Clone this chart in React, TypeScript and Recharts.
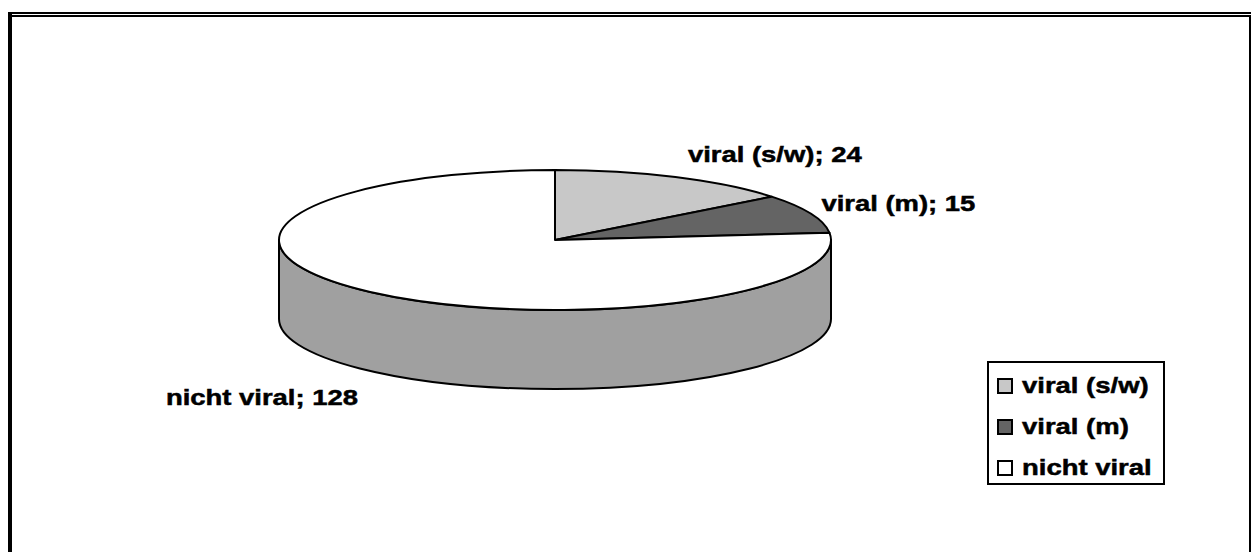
import { PieChart, Pie, Cell, Legend } from "recharts";

// categories and counts
const categories = ["viral (s/w)", "viral (m)", "nicht viral"];
const counts = [24, 15, 128];

// top face / side wall colours per category
const topColors: Record<string, string> = {
  "viral (s/w)": "#C8C8C8",
  "viral (m)": "#646464",
  "nicht viral": "#FFFFFF",
};
const sideColors: Record<string, string> = {
  "viral (s/w)": "#969696",
  "viral (m)": "#4A4A4A",
  "nicht viral": "#A0A0A0",
};

const pieData = categories.map((name, i) => ({ name, value: counts[i] }));

const TILT = 70 / 276; // vertical squash of the disc
const DEPTH = 79 / 276; // wall height relative to radius
const RAD = Math.PI / 180;
const FONT = '"Liberation Sans", Arial, Helvetica, sans-serif';
const STRETCH = 1.22; // wide lettering

const pt = (cx: number, cy: number, rx: number, ry: number, a: number, dy = 0) =>
  `${cx + rx * Math.cos(a * RAD)},${cy - ry * Math.sin(a * RAD) + dy}`;

// draws a sector as a slice of a flattened cylinder
const Slice3D = (props: any) => {
  const { cx, cy, outerRadius, startAngle, endAngle, fill, payload } = props;
  const name = payload?.name ?? props.name;
  const rx = outerRadius;
  const ry = outerRadius * TILT;
  const depth = outerRadius * DEPTH;
  const hi = Math.max(startAngle, endAngle);
  const lo = Math.min(startAngle, endAngle);

  // front-facing wall: the part of the rim where sin(angle) < 0
  const walls: string[] = [];
  for (const k of [-1, 0, 1]) {
    const a1 = Math.max(lo, -180 + 360 * k);
    const a2 = Math.min(hi, 360 * k);
    if (a2 - a1 > 0.01) {
      walls.push(
        `M${pt(cx, cy, rx, ry, a2)} A${rx},${ry} 0 0 1 ${pt(cx, cy, rx, ry, a1)}` +
          ` L${pt(cx, cy, rx, ry, a1, depth)} A${rx},${ry} 0 0 0 ${pt(cx, cy, rx, ry, a2, depth)} Z`
      );
    }
  }

  const large = hi - lo > 180 ? 1 : 0;
  const top =
    `M${cx},${cy} L${pt(cx, cy, rx, ry, hi)} ` +
    `A${rx},${ry} 0 ${large} 1 ${pt(cx, cy, rx, ry, lo)} Z`;

  return (
    <g>
      {walls.map((d, i) => (
        <path key={i} d={d} fill={sideColors[name] ?? "#A0A0A0"} stroke="#000" strokeWidth={2} strokeLinejoin="round" />
      ))}
      <path d={top} fill={fill} stroke="#000" strokeWidth={2} strokeLinejoin="round" />
    </g>
  );
};

const renderLabel = (props: any) => {
  const { cx, cy, midAngle, outerRadius, value } = props;
  const name = props.name ?? props.payload?.name;
  const rx = outerRadius;
  const ry = outerRadius * TILT;
  const depth = outerRadius * DEPTH;
  const s = Math.sin(midAngle * RAD);
  const c = Math.cos(midAngle * RAD);
  const x = cx + (rx + 10) * c + 10 * s * s * Math.sign(c);
  const y = cy - (ry + 12) * s + (s < 0 ? depth + 8 : 0) + 7 - 13 * s;
  return (
    <text
      transform={`translate(${x},${y}) scale(${STRETCH},1)`}
      textAnchor={c >= 0 ? "start" : "end"}
      fontFamily={FONT}
      fontWeight="bold"
      fontSize={22.5}
      fill="#000"
      stroke="#000"
      strokeWidth={0.5}
    >
      {`${name}; ${value}`}
    </text>
  );
};

const LegendBox = () => (
  <div
    style={{
      boxSizing: "border-box",
      width: 178,
      height: 124,
      border: "2px solid #000",
      background: "#fff",
      padding: "2px 0 0 8px",
    }}
  >
    {categories.map((name) => (
      <div key={name} style={{ height: 41, display: "flex", alignItems: "center" }}>
        <span
          style={{
            boxSizing: "border-box",
            width: 16,
            height: 16,
            border: "2px solid #000",
            background: topColors[name],
            marginRight: 9,
            flex: "none",
          }}
        />
        <span
          style={{
            display: "inline-block",
            fontFamily: FONT,
            fontWeight: "bold",
            fontSize: 22.5,
            color: "#000",
            WebkitTextStroke: "0.5px #000",
            whiteSpace: "nowrap",
            transform: `scaleX(${STRETCH})`,
            transformOrigin: "left center",
          }}
        >
          {name}
        </span>
      </div>
    ))}
  </div>
);

export default function App() {
  return (
    <div style={{ position: "fixed", left: 0, top: 0, width: 1251, height: 552, background: "#fff" }}>
      <PieChart width={1251} height={552} margin={{ top: 0, right: 0, bottom: 0, left: 0 }}>
        <Pie
          data={pieData}
          dataKey="value"
          nameKey="name"
          cx={555}
          cy={240}
          outerRadius={276}
          startAngle={90}
          endAngle={-270}
          stroke="#000"
          labelLine={false}
          label={renderLabel}
          shape={Slice3D}
          activeShape={Slice3D}
          inactiveShape={Slice3D}
          isAnimationActive={false}
        >
          {pieData.map((d) => (
            <Cell key={d.name} fill={topColors[d.name]} />
          ))}
        </Pie>
        <Legend
          layout="vertical"
          align="right"
          verticalAlign="top"
          content={LegendBox}
          wrapperStyle={{ left: 987, top: 361, width: 178, height: 124 }}
        />
      </PieChart>
      {/* chart area frame */}
      <div
        style={{
          position: "absolute",
          boxSizing: "border-box",
          left: 8,
          top: 12,
          width: 1243,
          height: 540,
          borderTop: "2px solid #000",
          borderLeft: "4px solid #000",
          pointerEvents: "none",
        }}
      />
      <div
        style={{
          position: "absolute",
          boxSizing: "border-box",
          left: 12,
          top: 15,
          width: 1239,
          height: 537,
          borderTop: "2px solid #000",
          borderRight: "2px solid #000",
          pointerEvents: "none",
        }}
      />
    </div>
  );
}
